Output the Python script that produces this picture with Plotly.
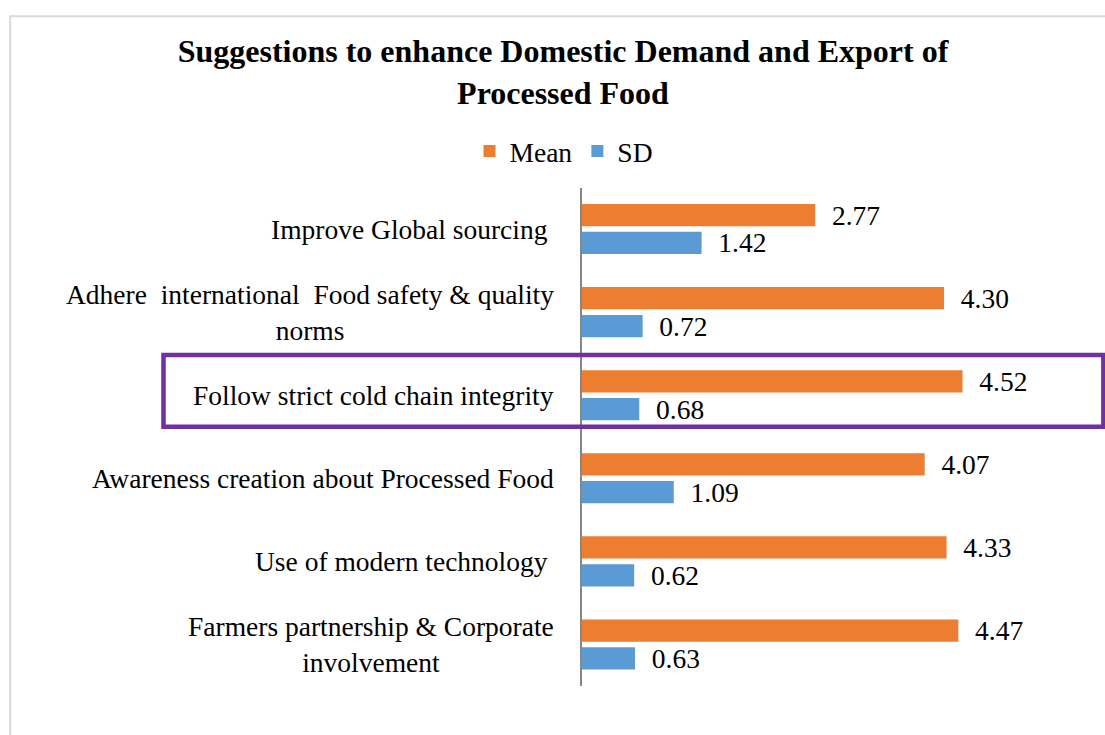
import plotly.graph_objects as go

# Survey items (top to bottom) and their summary statistics
categories = [
    "Improve Global sourcing ",
    "Adhere  international  Food safety & quality<br>norms",
    "Follow strict cold chain integrity",
    "Awareness creation about Processed Food",
    "Use of modern technology ",
    "Farmers partnership & Corporate<br>involvement",
]
mean_values = [2.77, 4.30, 4.52, 4.07, 4.33, 4.47]
sd_values = [1.42, 0.72, 0.68, 1.09, 0.62, 0.63]
series_names = ["Mean", "SD"]
highlighted = "Follow strict cold chain integrity"

title_text = "Suggestions to enhance Domestic Demand and Export of<br>Processed Food"

ORANGE = "#ED7D31"
BLUE = "#5B9BD5"
FONT = "Liberation Serif, Times New Roman, serif"
FS = 27.5

W, H = 1105, 735
L, R, T, B = 582, 101.5, 186, 49
PW, PH = W - L - R, H - T - B


def px_x(p):
    # pixel x -> paper x
    return (p - L) / PW


def px_y(p):
    # pixel y -> paper y
    return (H - B - p) / PH


def keep_spaces(s):
    return s.replace("  ", " \u00a0").rstrip(" ") + ("\u00a0" if s.endswith(" ") else "")


fig = go.Figure()
for name, vals, col in [(series_names[0], mean_values, ORANGE), (series_names[1], sd_values, BLUE)]:
    fig.add_trace(go.Bar(
        name=name,
        x=vals,
        y=categories,
        orientation="h",
        marker=dict(color=col, line=dict(width=0)),
        text=vals,
        texttemplate="\u00a0\u00a0%{x:.2f}",
        textposition="outside",
        textfont=dict(family=FONT, size=FS, color="black"),
        constraintext="none",
        cliponaxis=False,
        hoverinfo="skip",
    ))

# category labels, centred within their own block like the original axis
for cat in categories:
    fig.add_annotation(
        xref="paper", yref="y", x=0, y=cat, xshift=-26,
        xanchor="right", yanchor="middle", align="center",
        text=keep_spaces(cat), showarrow=False,
        font=dict(family=FONT, size=FS, color="black"),
    )

# outer chart border (top and left edges visible)
fig.add_shape(
    type="rect", xref="paper", yref="paper",
    x0=px_x(9.5), x1=px_x(1120), y0=px_y(760), y1=px_y(14.3),
    line=dict(color="#D9D9D9", width=2), fillcolor="rgba(0,0,0,0)", layer="below",
)

# highlight box around the cold chain item
hi = categories.index(highlighted)
fig.add_shape(
    type="rect", xref="paper", yref="y",
    x0=px_x(163), x1=px_x(1104), y0=hi - 0.485, y1=hi + 0.38,
    line=dict(color="#7030A0", width=4.5), fillcolor="rgba(0,0,0,0)",
)

fig.update_layout(
    width=W, height=H,
    margin=dict(l=L, r=R, t=T, b=B),
    paper_bgcolor="white", plot_bgcolor="white",
    barmode="group", bargap=0.33, bargroupgap=0.2,
    showlegend=True,
    title=dict(
        text=f"<b>{title_text}</b>",
        font=dict(family=FONT, size=32, color="black"),
        xref="container", x=563 / W, xanchor="center",
        yref="container", y=1 - 62 / H, yanchor="top",
    ),
    legend=dict(
        orientation="h", traceorder="normal",
        xref="container", x=564 / W, xanchor="center",
        yref="container", y=1 - 151 / H, yanchor="middle",
        font=dict(family=FONT, size=FS, color="black"),
        bgcolor="rgba(0,0,0,0)", itemwidth=30,
    ),
    xaxis=dict(range=[0, 5], visible=False, fixedrange=True),
    yaxis=dict(
        type="category", categoryorder="array", categoryarray=categories,
        autorange="reversed", showticklabels=False, ticks="",
        showline=True, linecolor="#868686", linewidth=2,
        showgrid=False, zeroline=False, fixedrange=True,
    ),
)

fig.write_html("out.html")
